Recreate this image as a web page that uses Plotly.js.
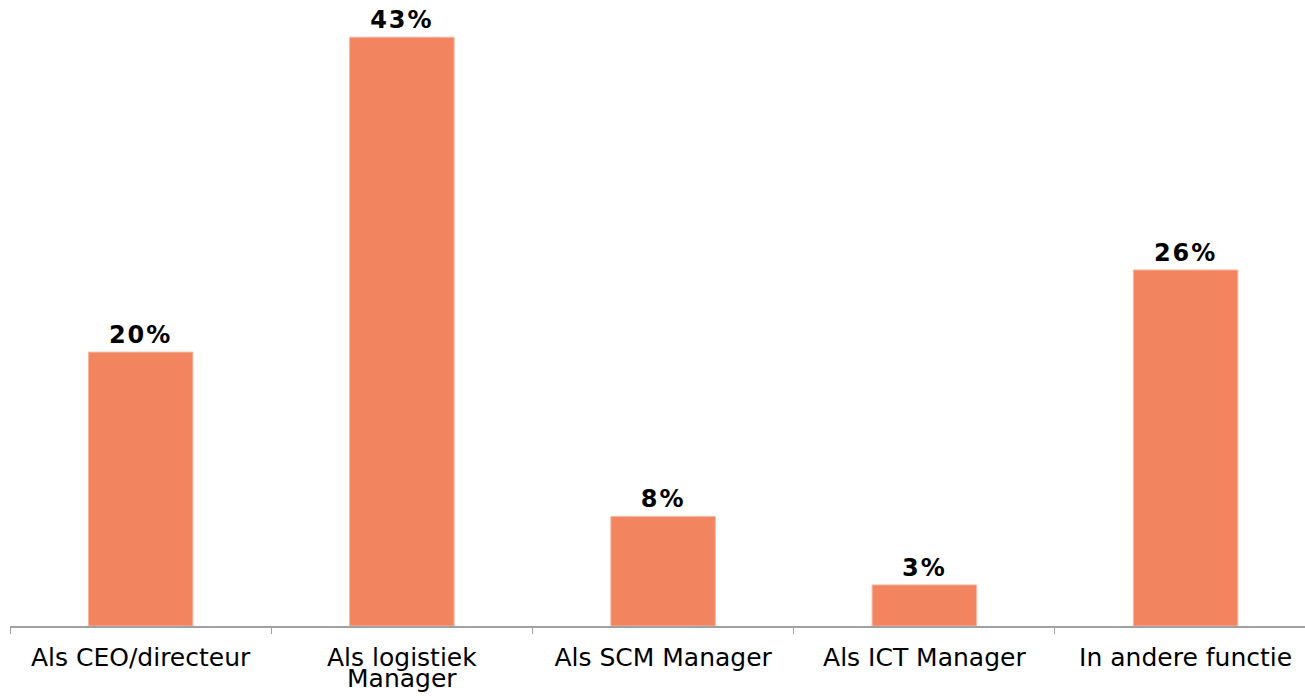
<!DOCTYPE html>
<html>
<head>
<meta charset="utf-8">
<script src="https://cdn.plot.ly/plotly-3.0.1.min.js"></script>
<style>
html,body{margin:0;padding:0;background:#fff;}
#chart{width:1305px;height:696px;}
#chart text.bartext{letter-spacing:2px;}
</style>
</head>
<body>
<div id="chart"></div>
<script>
const categories = ["Als CEO/directeur", "Als logistiek Manager", "Als SCM Manager", "Als ICT Manager", "In andere functie"];
const labelLine1 = ["Als CEO/directeur", "Als logistiek", "Als SCM Manager", "Als ICT Manager", "In andere functie"];
const labelLine2 = ["", "Manager", "", "", ""];
const values = [20, 43, 8, 3, 26];
const valueLabels = ["20%", "43%", "8%", "3%", "26%"];

const trace = {
  type: "bar",
  x: categories,
  y: values,
  text: valueLabels,
  texttemplate: "<b>%{text}</b>",
  textposition: "outside",
  cliponaxis: false,
  textfont: {family: "DejaVu Sans", size: 24, color: "#000"},
  marker: {color: "#F2845F", line: {color: "#F5B9A5", width: 1}},
  width: 0.4,
  hoverinfo: "none"
};

const secondLines = [];
categories.forEach((c, i) => {
  if (labelLine2[i]) {
    secondLines.push({
      x: c, xref: "x", y: 0, yref: "paper",
      text: labelLine2[i], showarrow: false,
      xanchor: "center", yanchor: "bottom", yshift: -69,
      font: {family: "DejaVu Sans", size: 25, color: "#000"}
    });
  }
});

const layout = {
  width: 1305,
  height: 696,
  margin: {l: 10, r: 0, t: 7, b: 70},
  paper_bgcolor: "#fff",
  plot_bgcolor: "#fff",
  showlegend: false,
  font: {family: "DejaVu Sans", size: 25, color: "#000"},
  xaxis: {
    type: "category",
    range: [-0.5, 4.457],
    tickmode: "array",
    tickvals: categories,
    ticktext: labelLine1,
    showline: true,
    linecolor: "#A0A0A0",
    linewidth: 2,
    ticks: "outside",
    tickson: "boundaries",
    ticklen: 6,
    tickcolor: "#A0A0A0",
    tickwidth: 1,
    ticklabelstandoff: 8,
    showgrid: false,
    zeroline: false,
    tickfont: {family: "DejaVu Sans", size: 25, color: "#000"}
  },
  yaxis: {
    range: [0, 45.2],
    visible: false,
    showgrid: false,
    zeroline: false
  },
  annotations: secondLines
};

Plotly.newPlot("chart", [trace], layout, {displayModeBar: false, staticPlot: true});
</script>
</body>
</html>
